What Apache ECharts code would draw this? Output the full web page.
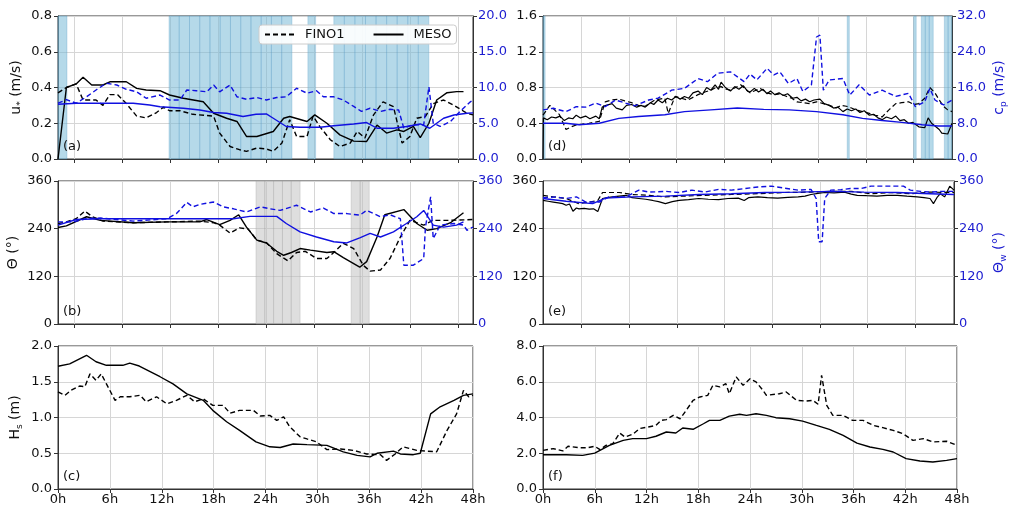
<!DOCTYPE html>
<html><head><meta charset="utf-8">
<script src="https://cdn.jsdelivr.net/npm/echarts/dist/echarts.min.js"></script>
<style>html,body{margin:0;padding:0;background:#fff}#c{width:1009px;height:509px}</style>
</head><body><div id="c"></div>
<script>
// ---------------- DATA ----------------
const xTickLabels = ['0h','6h','12h','18h','24h','30h','36h','42h','48h'];
// vertical grid lines / ticks of the unlabeled top panels (hours on the 0-48 h data axis)
const topLeftGridHours = [1.85,7.40,12.95,18.51,24.06,29.61,35.16,40.71,46.27];
const topRightGridHours = [4.52,10.09,15.65,21.22,26.78,32.35,37.91,43.48];

// shaded periods [startHour, endHour]
const bandsA = [[0,1.04],[12.84,27.06],[28.9,29.8],[31.9,42.9]];
const bandsB = [[22.9,28.0],[33.9,36.0]];
const bandsD = [[0,0.25],[35.7,35.95],[43.5,43.8],[44.4,45.8],[47.1,48]];

// (a) u* (m/s)
const ustarFinoA = [[0,0.37],[0.97,0.40],[2.1,0.42],[2.9,0.33],[4.4,0.33],[5.2,0.30],[6.0,0.36],[6.9,0.36],[7.9,0.31],[9.1,0.24],[10.2,0.23],[11.4,0.26],[12.2,0.29],[12.9,0.27],[14.1,0.27],[15.6,0.25],[18.0,0.24],[18.7,0.145],[19.9,0.07],[21.0,0.052],[21.8,0.043],[23.0,0.061],[24.1,0.056],[24.9,0.043],[25.9,0.089],[26.8,0.22],[27.6,0.126],[28.8,0.126],[29.5,0.24],[30.3,0.18],[31.5,0.108],[32.6,0.07],[33.8,0.089],[34.6,0.154],[35.5,0.117],[36.5,0.247],[37.6,0.32],[38.8,0.293],[39.8,0.089],[40.7,0.126],[41.5,0.228],[42.5,0.238],[43.4,0.31],[44.6,0.33],[45.8,0.30],[47.3,0.256],[48,0.247]];
const ustarMesoA = [[0,0.0],[0.97,0.40],[2.1,0.42],[2.9,0.457],[3.9,0.414],[5.2,0.414],[6.0,0.432],[7.9,0.432],[9.1,0.395],[10.2,0.386],[11.8,0.382],[12.9,0.358],[14.5,0.34],[16.8,0.32],[18.0,0.256],[19.5,0.228],[20.7,0.21],[21.8,0.126],[23.0,0.126],[24.9,0.154],[26.1,0.228],[26.8,0.238],[28.8,0.21],[29.7,0.247],[31.1,0.20],[32.6,0.135],[34.2,0.10],[35.7,0.098],[36.9,0.19],[38.0,0.145],[39.2,0.163],[40.0,0.154],[41.1,0.182],[41.9,0.12],[42.9,0.20],[43.8,0.33],[45.0,0.371],[46.1,0.377],[46.9,0.377]];
// (a) c_p (m/s), right axis
const cpFinoA = [[0,7.8],[0.97,8.3],[2.1,7.8],[3.3,8.7],[4.4,9.65],[5.6,10.6],[6.8,10.35],[7.9,9.75],[9.1,9.4],[10.2,8.5],[11.8,8.95],[12.9,8.25],[14.1,8.25],[14.9,9.65],[16.0,9.55],[17.2,9.4],[18.0,10.35],[18.7,9.4],[19.9,10.35],[20.7,8.7],[21.8,8.35],[23.0,8.6],[24.1,8.25],[25.3,8.6],[26.4,8.7],[27.6,9.9],[28.8,9.2],[29.9,9.55],[30.7,8.7],[31.9,8.7],[33.0,8.25],[34.2,7.35],[35.1,6.65],[36.1,7.1],[37.3,6.65],[38.4,6.95],[39.4,6.85],[40.0,4.3],[41.1,4.8],[42.3,4.8],[42.9,10.1],[43.4,5.0],[44.2,4.55],[45.4,5.25],[46.5,6.65],[47.7,8.0],[48,8.25]];
const cpMesoA = [[0,7.65],[2.1,7.8],[4.4,7.8],[8.7,7.8],[10.6,7.55],[11.8,7.3],[14.5,7.1],[16.4,6.85],[18.0,6.5],[19.5,6.4],[21.4,5.95],[22.9,6.25],[24.1,6.3],[24.9,5.7],[26.4,4.55],[28.0,4.45],[30.3,4.45],[31.9,4.65],[34.2,4.9],[35.7,5.1],[36.9,4.3],[38.8,4.3],[40.3,4.55],[41.9,4.9],[43.0,4.3],[44.6,5.7],[45.8,6.15],[47.3,6.4],[48,6.45]];

// (b) wind direction (deg) and wave direction (deg)
const thetaFinoB = [[0,253],[0.97,257],[2.1,265],[3.1,284],[4.0,270],[5.2,259],[8.7,255],[12.6,257],[16.4,259],[18.0,255],[18.7,249],[19.9,229],[21.0,242],[22.0,239],[23.0,211],[24.1,205],[25.3,177],[26.6,159],[27.6,180],[28.6,183],[29.9,165],[31.1,165],[31.9,180],[33.0,203],[34.2,190],[35.3,148],[36.1,133],[37.3,136],[38.4,165],[39.6,219],[40.7,261],[42.3,249],[43.4,261],[45.4,261],[48,263]];
const thetaMesoB = [[0,243],[0.97,247],[3.3,270],[4.9,261],[8.7,255],[12.6,257],[16.4,257],[17.2,263],[18.7,250],[19.9,261],[20.9,275],[21.8,244],[23.0,211],[24.1,204],[25.3,183],[26.1,173],[27.0,180],[28.0,190],[29.2,186],[31.1,180],[31.9,182],[33.0,167],[34.9,143],[35.7,157],[36.9,219],[37.8,275],[40.0,288],[41.5,253],[42.7,236],[43.8,240],[45.4,255],[46.9,280]];
const thetaWFinoB = [[0,257],[1.7,257],[3.3,265],[4.9,267],[8.7,259],[12.6,265],[13.7,278],[14.9,306],[15.6,295],[16.4,301],[18.0,307],[19.1,295],[20.3,290],[21.8,282],[23.4,295],[24.5,290],[25.7,286],[27.6,299],[29.2,282],[30.7,292],[31.9,278],[33.4,278],[34.9,274],[35.7,286],[37.3,270],[38.4,275],[39.6,265],[40.0,148],[41.1,148],[42.3,165],[42.5,244],[43.1,320],[43.4,215],[44.2,249],[45.8,253],[46.9,249],[47.3,236],[48,244]];
const thetaWMesoB = [[0,249],[2.1,263],[4.9,265],[12.6,265],[20.3,265],[22.2,271],[25.3,271],[26.4,253],[28.0,232],[29.9,219],[31.9,207],[33.4,204],[34.9,217],[36.1,228],[37.3,219],[38.8,232],[40.3,253],[41.5,270],[42.3,286],[43.4,249],[44.6,244],[46.1,249],[46.9,257]];

// (c) Hs (m)
const hsFinoC = [[0,1.36],[0.8,1.31],[1.5,1.38],[2.5,1.44],[3.1,1.43],[3.7,1.61],[4.4,1.52],[5.0,1.61],[5.6,1.47],[6.6,1.24],[7.2,1.29],[8.3,1.29],[9.5,1.31],[10.2,1.22],[11.4,1.29],[12.6,1.19],[13.7,1.24],[14.9,1.31],[15.8,1.22],[16.8,1.26],[17.9,1.17],[19.1,1.17],[19.9,1.06],[21.0,1.10],[22.6,1.10],[23.4,1.02],[24.5,1.03],[25.3,0.96],[26.1,1.01],[26.8,0.87],[28.0,0.73],[28.8,0.70],[29.9,0.66],[31.1,0.55],[32.7,0.56],[34.2,0.54],[35.7,0.49],[37.3,0.48],[38.0,0.40],[39.0,0.49],[39.9,0.59],[41.5,0.54],[43.8,0.52],[45.0,0.82],[46.1,1.05],[46.9,1.38],[47.5,1.29],[48,1.31]];
const hsMesoC = [[0,1.716],[1.35,1.75],[3.3,1.87],[4.4,1.78],[5.6,1.73],[7.5,1.73],[8.3,1.76],[9.4,1.72],[11.8,1.57],[13.3,1.47],[14.9,1.33],[16.8,1.24],[17.9,1.10],[19.5,0.94],[21.0,0.82],[22.9,0.66],[24.5,0.59],[25.7,0.58],[27.2,0.63],[28.8,0.62],[31.1,0.61],[33.0,0.52],[34.6,0.47],[36.1,0.45],[36.9,0.50],[38.8,0.53],[39.6,0.49],[41.1,0.48],[41.9,0.50],[43.1,1.05],[44.2,1.15],[45.8,1.24],[46.9,1.31],[48,1.33]];

// (d) u* (m/s) and c_p (m/s)
const ustarFinoD = [[0,0.49],[0.8,0.6],[1.9,0.5],[2.7,0.33],[3.3,0.36],[3.9,0.38],[5.4,0.4],[6.6,0.42],[7.3,0.64],[8.1,0.66],[8.9,0.67],[9.6,0.65],[10.4,0.63],[11.2,0.6],[12.0,0.59],[13.1,0.66],[14.3,0.68],[14.7,0.51],[15.5,0.7],[16.2,0.68],[17.0,0.66],[18.2,0.72],[19.0,0.75],[19.7,0.77],[20.3,0.8],[20.9,0.81],[21.5,0.78],[22.0,0.77],[22.6,0.8],[23.2,0.83],[23.8,0.78],[24.3,0.74],[25.0,0.77],[25.5,0.79],[26.3,0.74],[27.1,0.72],[27.8,0.73],[28.6,0.7],[29.2,0.68],[29.8,0.64],[30.5,0.63],[31.3,0.62],[32.1,0.64],[32.9,0.62],[33.6,0.6],[34.4,0.57],[35.0,0.6],[35.6,0.59],[36.2,0.57],[36.7,0.55],[37.5,0.53],[38.3,0.51],[39.0,0.49],[39.8,0.47],[40.6,0.55],[41.4,0.62],[42.1,0.63],[42.9,0.64],[43.5,0.61],[44.1,0.62],[44.8,0.68],[45.4,0.8],[46.0,0.74],[46.5,0.66],[47.0,0.59],[47.5,0.55],[48,0.53]];
const ustarMesoD = [[0,0],[0.05,0.46],[0.5,0.44],[1.0,0.47],[1.5,0.46],[2.0,0.48],[2.5,0.43],[3.0,0.46],[3.5,0.45],[3.9,0.49],[4.4,0.46],[5.0,0.48],[5.5,0.45],[6.2,0.48],[6.6,0.45],[6.95,0.58],[7.4,0.6],[8.1,0.62],[8.6,0.57],[9.3,0.55],[9.8,0.6],[10.4,0.61],[11.0,0.58],[11.5,0.6],[12.0,0.58],[12.6,0.63],[13.0,0.61],[13.5,0.66],[14.0,0.63],[14.6,0.68],[15.1,0.66],[15.6,0.7],[16.1,0.67],[16.6,0.7],[17.1,0.68],[17.6,0.74],[18.2,0.76],[18.7,0.72],[19.2,0.8],[19.7,0.77],[20.2,0.83],[20.6,0.78],[20.9,0.86],[21.4,0.8],[22.0,0.76],[22.5,0.81],[23.0,0.78],[23.5,0.82],[24.0,0.76],[24.3,0.75],[24.8,0.79],[25.3,0.75],[25.8,0.78],[26.3,0.73],[26.7,0.76],[27.2,0.72],[27.7,0.74],[28.2,0.71],[28.7,0.73],[29.3,0.68],[29.8,0.69],[30.3,0.65],[30.8,0.67],[31.3,0.64],[31.8,0.66],[32.5,0.67],[33.0,0.62],[33.6,0.6],[34.1,0.57],[34.6,0.58],[35.2,0.53],[35.7,0.56],[36.2,0.54],[36.7,0.56],[37.2,0.52],[37.7,0.54],[38.3,0.49],[38.8,0.5],[39.3,0.46],[39.8,0.44],[40.3,0.47],[40.9,0.45],[41.4,0.48],[41.9,0.43],[42.4,0.44],[42.9,0.4],[43.4,0.41],[44.1,0.36],[44.8,0.35],[45.2,0.46],[45.6,0.4],[46.0,0.37],[46.5,0.33],[46.8,0.29],[47.5,0.28],[48,0.4]];
const cpFinoD = [[0,11.0],[1.2,11.35],[2.7,10.6],[3.9,11.7],[5.0,11.6],[6.2,12.5],[7.3,11.7],[8.5,13.2],[9.7,12.5],[10.8,11.9],[12.4,13.2],[13.5,13.6],[15.1,15.4],[16.6,15.8],[18.2,18.0],[19.3,17.3],[20.5,19.2],[22.0,19.5],[23.6,17.3],[24.3,19.0],[25.1,17.7],[26.3,20.3],[27.1,18.8],[27.8,19.5],[28.8,16.9],[29.8,18.0],[30.5,15.1],[31.5,16.6],[32.1,27.3],[32.5,27.7],[32.9,15.4],[33.6,17.7],[35.2,18.0],[36.0,14.3],[37.1,16.6],[38.3,14.3],[39.8,15.4],[41.4,14.0],[42.9,14.7],[43.7,11.7],[44.8,12.8],[45.4,15.8],[46.0,13.2],[47.0,12.1],[48,13.2]];
const cpMesoD = [[0,8.0],[2.7,8.0],[4.2,7.65],[6.6,8.0],[8.9,9.1],[11.2,9.5],[14.3,9.9],[16.6,10.6],[19.7,11.0],[22.8,11.4],[25.9,11.1],[28.9,11.0],[32.1,10.6],[35.2,9.9],[37.5,9.1],[39.8,8.6],[42.1,8.2],[44.5,7.65],[46.4,7.4],[48,7.4]];

// (e) wind direction and wave direction (deg)
const thetaFinoE = [[0,324],[1.2,320],[2.7,316],[4.2,303],[5.4,307],[6.4,311],[6.95,331],[8.9,331],[10.4,326],[12.4,324],[14.3,320],[16.6,322],[18.9,324],[22.0,326],[25.1,328],[28.2,331],[31.3,332],[33.6,334],[36.0,334],[38.3,328],[40.6,331],[42.9,328],[45.2,332],[48,331]];
const thetaMesoE = [[0,311],[0.6,309],[1.2,307],[1.8,305],[2.3,303],[2.7,299],[3.1,302],[3.5,284],[3.9,292],[4.2,290],[4.8,291],[5.4,289],[5.9,290],[6.4,283],[6.95,316],[7.5,318],[8.1,320],[8.9,322],[9.7,324],[10.4,318],[11.2,316],[12.0,314],[12.8,311],[13.5,308],[14.3,303],[15.1,308],[15.9,311],[17.0,313],[18.2,316],[19.3,314],[20.5,313],[21.6,316],[22.8,317],[23.5,311],[24.0,318],[25.1,320],[26.2,318],[27.4,317],[28.6,319],[29.8,320],[30.6,322],[31.3,326],[32.1,329],[32.9,331],[34.0,330],[35.2,332],[36.0,327],[36.7,324],[37.8,323],[39.0,322],[40.2,324],[41.4,324],[42.5,322],[43.7,320],[44.5,318],[45.2,316],[45.6,303],[46.0,318],[46.4,328],[46.9,320],[47.5,347],[48,337]];
const thetaWFinoE = [[0,318],[1.5,320],[2.7,316],[3.9,320],[5.0,307],[6.6,307],[7.7,320],[9.7,320],[11.2,337],[12.4,332],[14.3,334],[15.9,331],[17.4,337],[18.9,332],[20.5,339],[22.0,337],[23.6,341],[25.1,345],[26.7,347],[28.2,342],[29.8,337],[31.3,339],[31.9,316],[32.2,207],[32.6,207],[32.9,316],[33.6,337],[34.8,338],[35.9,341],[37.1,341],[38.3,347],[40.6,347],[42.1,347],[42.9,337],[44.1,334],[45.2,332],[46.8,334],[48,334]];
const thetaWMesoE = [[0,316],[2.7,309],[5.8,303],[7.3,317],[10.4,320],[14.3,322],[18.2,326],[22.0,328],[25.9,331],[29.8,332],[33.6,334],[37.5,332],[41.4,331],[45.2,328],[48,326]];

// (f) Hs (m)
const hsFinoF = [[0,2.16],[1.2,2.26],[2.3,2.13],[2.9,2.39],[4.2,2.31],[5.2,2.31],[6.0,2.39],[6.6,2.20],[7.3,2.44],[8.1,2.54],[8.9,3.13],[9.5,2.91],[10.4,3.06],[11.2,3.38],[12.2,3.47],[13.1,3.56],[13.7,3.84],[14.3,3.88],[15.1,4.12],[15.9,3.93],[16.6,4.40],[17.4,4.96],[18.2,5.15],[19.1,5.24],[19.7,5.80],[20.5,5.71],[21.2,5.89],[21.6,5.33],[22.4,6.27],[23.2,5.80],[24.0,6.17],[24.7,5.99],[25.5,5.52],[25.9,5.24],[27.4,5.33],[28.2,5.43],[29.4,4.96],[30.5,4.92],[31.3,4.96],[31.9,4.74],[32.3,6.36],[32.9,4.68],[33.6,4.12],[34.8,4.12],[35.9,3.84],[37.1,3.84],[38.3,3.56],[39.4,3.43],[40.6,3.28],[41.7,3.10],[42.9,2.72],[44.1,2.82],[45.2,2.63],[46.8,2.67],[47.5,2.54],[48,2.44]];
const hsMesoF = [[0,1.92],[2.7,1.92],[4.6,1.88],[6.0,2.01],[7.7,2.44],[9.3,2.72],[10.4,2.82],[12.0,2.82],[13.1,2.95],[14.3,3.19],[15.4,3.13],[16.2,3.41],[17.4,3.34],[18.6,3.65],[19.3,3.84],[20.5,3.84],[21.6,4.08],[22.8,4.18],[23.6,4.12],[24.7,4.21],[25.9,4.12],[27.0,3.99],[28.6,3.93],[30.1,3.80],[31.7,3.56],[33.2,3.34],[34.8,3.0],[36.4,2.57],[37.9,2.35],[39.4,2.22],[40.6,2.07],[42.1,1.70],[43.7,1.57],[45.2,1.51],[46.8,1.60],[48,1.70]];

// ---------------- STYLE ----------------
const FONT = 'DejaVu Sans';
const TXT = '#111';
const BLUE_TXT = '#1c1cd0';
const BLUE = '#1010e0';
const BLACK = '#000';
const GRIDC = '#d6d6d6';
const FRAME = '#333';
const FS = 13;

function cells(bands, step){
  const out = [];
  bands.forEach(([s,e]) => {
    const n = Math.max(1, Math.round((e - s) / step));
    const w = (e - s) / n;
    for (let i = 0; i < n; i++) out.push([{xAxis: s + i*w}, {xAxis: s + (i+1)*w}]);
  });
  return out;
}

const gridBoxes = [
  {left:58, top:16}, {left:58, top:181}, {left:58, top:346},
  {left:543, top:16}, {left:543, top:181}, {left:543, top:346}
];
const grid = gridBoxes.map((g, i) => ({left:g.left, top:g.top, width: i < 3 ? 415 : 414, height:143,
  show:true, borderColor:FRAME, borderWidth:1, backgroundColor:'transparent'}));

function dataX(gi, tickHours){
  return {type:'value', gridIndex:gi, min:0, max:48,
    axisLine:{show:true, lineStyle:{color:FRAME}},
    axisTick:{show:true, length:4, customValues:tickHours, lineStyle:{color:FRAME}},
    axisLabel:{show:false}, splitLine:{show:false}};
}
function labX(gi){
  return {type:'value', gridIndex:gi, min:0, max:48, interval:6,
    axisLine:{show:true, lineStyle:{color:FRAME}},
    axisTick:{show:true, length:4, lineStyle:{color:FRAME}},
    axisLabel:{color:TXT, fontSize:FS, fontFamily:FONT, margin:4,
      formatter: v => xTickLabels[Math.round(v/6)]},
    splitLine:{show:true, lineStyle:{color:GRIDC, width:1}}};
}
const richName = {
  n:{fontSize:14, fontFamily:FONT, color:TXT},
  s:{fontSize:9, fontFamily:FONT, color:TXT, padding:[9,0,0,0]},
  nb:{fontSize:14, fontFamily:FONT, color:BLUE_TXT},
  sb:{fontSize:9, fontFamily:FONT, color:BLUE_TXT, padding:[9,0,0,0]}
};
function yL(gi, max, interval, dec, name, gap){
  return {type:'value', gridIndex:gi, position:'left', min:0, max, interval,
    axisLine:{show:true, lineStyle:{color:FRAME}},
    axisTick:{show:true, length:4, lineStyle:{color:FRAME}},
    axisLabel:{color:TXT, fontSize:FS, fontFamily:FONT, margin:6, formatter: v => v.toFixed(dec)},
    splitLine:{show:true, lineStyle:{color:GRIDC, width:1}},
    name: name || '', nameLocation:'middle', nameGap:gap || 30, nameRotate:90,
    nameTextStyle:{rich:richName, fontSize:14, fontFamily:FONT, color:TXT}};
}
function yR(gi, max, interval, dec, name, gap){
  return {type:'value', gridIndex:gi, position:'right', min:0, max, interval,
    axisLine:{show:true, lineStyle:{color:FRAME}},
    axisTick:{show:true, length:4, lineStyle:{color:FRAME}},
    axisLabel:{color:BLUE_TXT, fontSize:FS, fontFamily:FONT, margin:5, formatter: v => v.toFixed(dec)},
    splitLine:{show:false},
    name: name || '', nameLocation:'middle', nameGap:gap || 30, nameRotate:90,
    nameTextStyle:{rich:richName, fontSize:14, fontFamily:FONT, color:BLUE_TXT}};
}

const xAxis = [dataX(0, topLeftGridHours), dataX(1, topLeftGridHours), labX(2),
               dataX(3, topRightGridHours), dataX(4, topRightGridHours), labX(5)];
const yAxis = [
  yL(0, 0.8, 0.2, 1, '{n|u}{s|*}{n| (m/s)}', 33),      // 0
  yR(0, 20, 5, 1),                                     // 1
  yL(1, 360, 120, 0, '{n|Θ (°)}', 38),                 // 2
  yR(1, 360, 120, 0),                                  // 3
  yL(2, 2.0, 0.5, 1, '{n|H}{s|s}{n| (m)}', 34),         // 4
  yL(3, 1.6, 0.4, 1),                                  // 5
  yR(3, 32, 8, 1, '{nb|c}{sb|p}{nb| (m/s)}', 38),       // 6
  yL(4, 360, 120, 0),                                  // 7
  yR(4, 360, 120, 0, '{nb|Θ}{sb|w}{nb| (°)}', 36),      // 8
  yL(5, 8, 2, 1)                                       // 9
];

function ln(name, data, xi, yi, color, dashed, w){
  return {type:'line', name, data, xAxisIndex:xi, yAxisIndex:yi, symbol:'none', showSymbol:false,
    z:3, animation:false, silent:true,
    lineStyle:{color, width:w || 1.4, type: dashed ? [5,3] : 'solid'}, itemStyle:{color}};
}
function backSeries(xi, yi, gridHours, bands, color, border, step){
  const s = {type:'line', name:'bg', data:[], xAxisIndex:xi, yAxisIndex:yi, z:1, silent:true, animation:false,
    markLine:{silent:true, symbol:'none', animation:false, z:1, label:{show:false},
      lineStyle:{color:GRIDC, type:'solid', width:1},
      data: gridHours.map(h => ({xAxis:h}))}};
  if (bands) s.markArea = {silent:true, z:2, itemStyle:{color, borderColor:border, borderWidth:0.6}, data: cells(bands, step)};
  return s;
}

const series = [
  backSeries(0, 0, topLeftGridHours, bandsA, 'rgba(120,185,215,0.55)', 'rgba(80,150,195,0.45)', 1.2),
  ln('FINO1', ustarFinoA, 0, 0, BLACK, true),
  ln('MESO', ustarMesoA, 0, 0, BLACK, false),
  ln('FINO1 cp', cpFinoA, 0, 1, BLUE, true),
  ln('MESO cp', cpMesoA, 0, 1, BLUE, false),

  backSeries(1, 2, topLeftGridHours, bandsB, 'rgba(190,190,190,0.5)', 'rgba(160,160,160,0.5)', 1.0),
  ln('FINO1', thetaFinoB, 1, 2, BLACK, true),
  ln('MESO', thetaMesoB, 1, 2, BLACK, false),
  ln('FINO1 dir', thetaWFinoB, 1, 3, BLUE, true),
  ln('MESO dir', thetaWMesoB, 1, 3, BLUE, false),

  ln('FINO1', hsFinoC, 2, 4, BLACK, true),
  ln('MESO', hsMesoC, 2, 4, BLACK, false),

  backSeries(3, 5, topRightGridHours, bandsD, 'rgba(120,185,215,0.55)', 'rgba(80,150,195,0.45)', 0.5),
  ln('FINO1', ustarFinoD, 3, 5, BLACK, true, 1.2),
  ln('MESO', ustarMesoD, 3, 5, BLACK, false, 1.2),
  ln('FINO1 cp', cpFinoD, 3, 6, BLUE, true),
  ln('MESO cp', cpMesoD, 3, 6, BLUE, false),

  backSeries(4, 7, topRightGridHours, null),
  ln('FINO1', thetaFinoE, 4, 7, BLACK, true, 1.2),
  ln('MESO', thetaMesoE, 4, 7, BLACK, false, 1.2),
  ln('FINO1 dir', thetaWFinoE, 4, 8, BLUE, true),
  ln('MESO dir', thetaWMesoE, 4, 8, BLUE, false),

  ln('FINO1', hsFinoF, 5, 9, BLACK, true),
  ln('MESO', hsMesoF, 5, 9, BLACK, false)
];

const panelLabels = ['(a)','(b)','(c)','(d)','(e)','(f)'];
const graphic = panelLabels.map((t, i) => ({
  type:'text', left: (i < 3 ? 63 : 548), top: [140,305,470][i % 3],
  style:{text:t, fontSize:FS, fontFamily:FONT, fill:TXT}, z:10
}));

const chart = echarts.init(document.getElementById('c'), null, {renderer:'canvas'});
chart.setOption({
  animation:false,
  backgroundColor:'#fff',
  grid, xAxis, yAxis, series, graphic,
  legend:{
    data:['FINO1','MESO'], left:259, top:25, orient:'horizontal', z:20,
    itemWidth:30, itemHeight:12, itemGap:28, padding:[3,5],
    itemStyle:{opacity:0, borderWidth:0},
    backgroundColor:'rgba(255,255,255,0.9)', borderColor:'#cccccc', borderWidth:1, borderRadius:3,
    textStyle:{fontSize:FS, fontFamily:FONT, color:TXT, padding:[0,5,0,5]},
    selectedMode:false
  }
});
</script></body></html>
